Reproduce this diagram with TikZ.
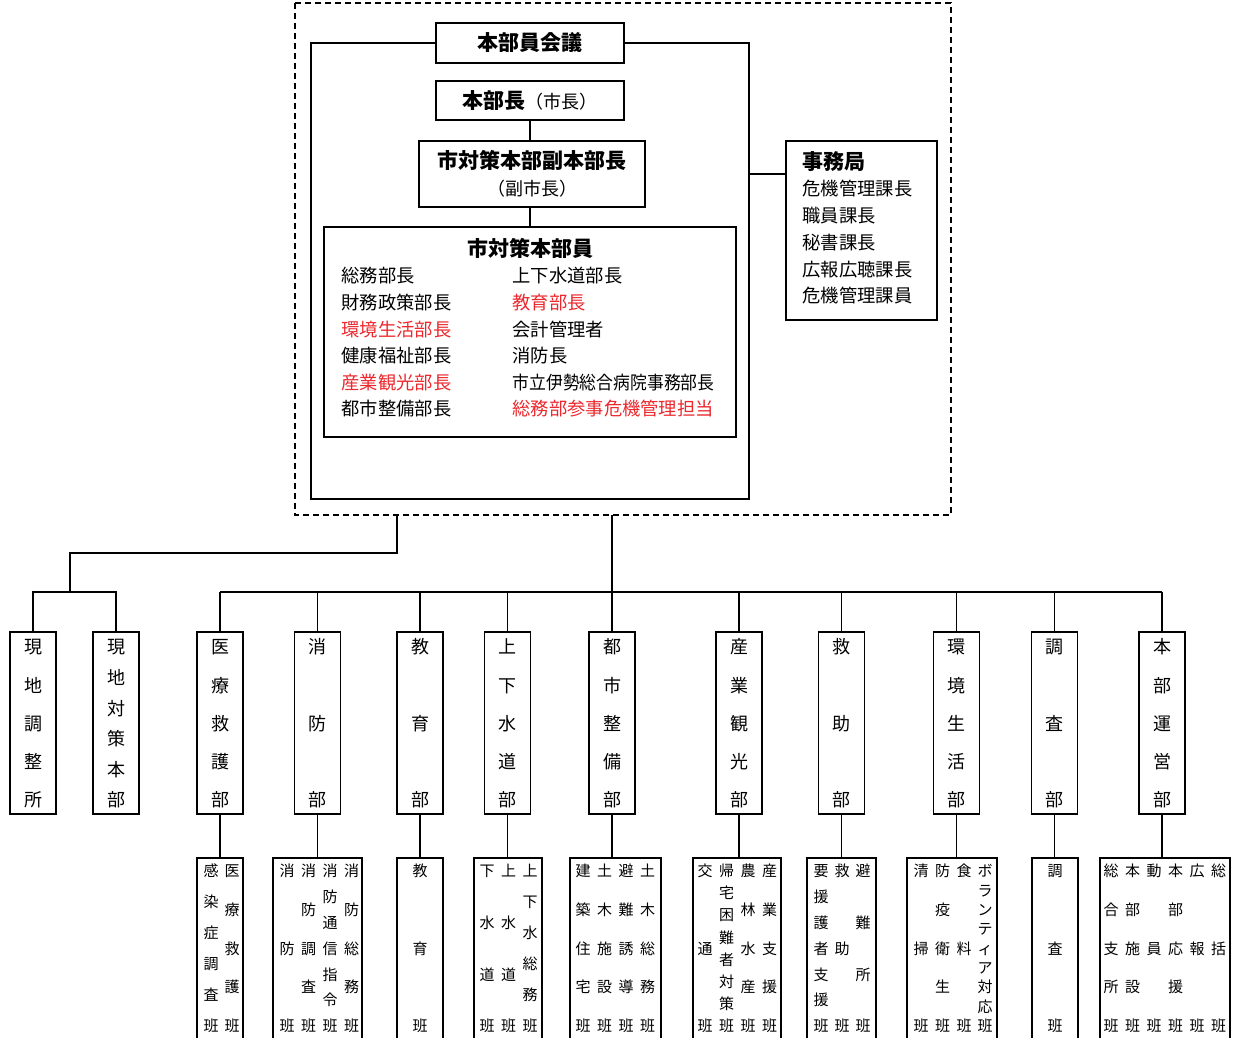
\documentclass[tikz,border=0pt]{standalone}
\usepackage{graphicx}
\usepackage{fontspec}
\setmainfont{Noto Sans CJK JP}
\definecolor{alertred}{RGB}{235,40,45}

% vertical text: one character node per row, spread from top to bottom
\newcommand{\tate}[6][tatechar]{%
  \foreach \c [count=\i] in {#6} {\xdef\tatenum{\i}}%
  \foreach \c [count=\i] in {#6} {%
    \node[#1] (#2-\i) at ({#3},{#4+(\i-1)*(#5-#4)/(\tatenum-1)}) {\c};}%
}

\tikzset{
  frame/.style={draw,inner sep=0pt},
  head/.style={inner sep=0pt,font=\fontsize{21}{27}\selectfont\bfseries,text height=18.5pt,text depth=2.5pt},
  item/.style={anchor=west,inner sep=0pt,font=\fontsize{18.3}{18}\selectfont,text height=16pt,text depth=2.2pt},
  deptbox/.style={draw,inner sep=0pt,minimum width=46,minimum height=182},
  hanbox/.style={draw,inner sep=0pt,minimum height=192},
  tatechar/.style={inner sep=0pt,font=\fontsize{15}{15}\selectfont,text height=13.2pt,text depth=1.8pt},
  bigchar/.style={inner sep=0pt,font=\fontsize{18}{18}\selectfont,text height=15.8pt,text depth=2.2pt}
}

\begin{document}
\begin{tikzpicture}[x=1pt,y=-1pt,line width=1.1pt]
  \useasboundingbox (0,0) rectangle (1237,1038);

  % headquarters area
  \draw[line width=1.2pt,dash pattern=on 6pt off 4pt] (295,3) rectangle (951,515);
  \node[frame,head,minimum width=188,minimum height=40] (kaigi) at (530,43) {本部員会議};
  \node[frame,minimum width=188,minimum height=39] (honbucho) at (530,100.5)
    {{\fontsize{21}{21}\selectfont\bfseries 本部長}{\fontsize{18}{18}\selectfont （市長）}\hspace{8pt}};
  \node[frame,align=center,minimum width=226,minimum height=66,font=\fontsize{18}{27}\selectfont] (fuku) at (532,174)
    {{\fontsize{21}{27}\selectfont\bfseries 市対策本部副本部長}\\（副市長）};
  \node[frame,minimum width=412,minimum height=210] (buin) at (530,332) {};
  \node[head] (buinhead) at (530,248) {市対策本部員};
  \foreach \t/\col [count=\i] in {総務部長/black,財務政策部長/black,環境生活部長/alertred,
      健康福祉部長/black,産業観光部長/alertred,都市整備部長/black}
    \node[item,text=\col] (bl-\i) at (341,{276+(\i-1)*26.6}) {\t};
  \foreach \t/\col [count=\i] in {上下水道部長/black,教育部長/alertred,会計管理者/black,
      消防長/black,{\scalebox{0.92}[1]{市立伊勢総合病院事務部長}}/black,総務部参事危機管理担当/alertred}
    \node[item,text=\col] (br-\i) at (512,{276+(\i-1)*26.6}) {\t};

  \node[frame,minimum width=151,minimum height=179] (jimu) at (861.5,230.5) {};
  \node[head,anchor=west] (jimuhead) at (802,161) {事務局};
  \foreach \t [count=\i] in {危機管理課長,職員課長,秘書課長,広報広聴課長,危機管理課員}
    \node[item] (jm-\i) at (802,{189+(\i-1)*26.75}) {\t};

  % connectors in the headquarters
  \coordinate (frl) at (311,499);
  \coordinate (frr) at (749,499);
  \coordinate (frj) at (749,174);
  \draw (kaigi.west) -| (frl) -- (frr) |- (kaigi.east);
  \draw (frj) -- (frj -| jimu.west);
  \draw (honbucho.south) -- (honbucho.south |- fuku.north);
  \draw (honbucho.south |- fuku.south) -- (honbucho.south |- buin.north);

  % departments
  \foreach \nm/\x in {genchichosei/33,genchitaisaku/116,iryo/220,shobo/317.5,kyoiku/420,suido/507.5,
      toshi/612,sangyo/739,kyujo/841.5,kankyo/956.5,chosa/1054.5,honbu/1162}
    \node[deptbox] (\nm) at (\x,723) {};
  \tate[bigchar]{genchichosei-t}{33}{647}{800}{現,地,調,整,所}
  \tate[bigchar]{genchitaisaku-t}{116}{647}{800}{現,地,対,策,本,部}
  \tate[bigchar]{iryo-t}{220}{647}{800}{医,療,救,護,部}
  \tate[bigchar]{shobo-t}{317.5}{647}{800}{消,防,部}
  \tate[bigchar]{kyoiku-t}{420}{647}{800}{教,育,部}
  \tate[bigchar]{suido-t}{507.5}{647}{800}{上,下,水,道,部}
  \tate[bigchar]{toshi-t}{612}{647}{800}{都,市,整,備,部}
  \tate[bigchar]{sangyo-t}{739}{647}{800}{産,業,観,光,部}
  \tate[bigchar]{kyujo-t}{841.5}{647}{800}{救,助,部}
  \tate[bigchar]{kankyo-t}{956.5}{647}{800}{環,境,生,活,部}
  \tate[bigchar]{chosa-t}{1054.5}{647}{800}{調,査,部}
  \tate[bigchar]{honbu-t}{1162}{647}{800}{本,部,運,営,部}

  % tree below the dashed box
  \coordinate (top) at (612,515);
  \coordinate (bus) at (612,592);
  \coordinate (ltop) at (397,515);
  \coordinate (gbus) at (70,592);
  \draw (top) -- (bus);
  \draw (ltop) -- (ltop |- 0,553) -| (gbus);
  \draw (genchichosei.north) |- (gbus) -| (genchitaisaku.north);
  \draw (iryo.north |- bus) -- (honbu.north |- bus);
  \foreach \nm in {iryo,shobo,kyoiku,suido,toshi,sangyo,kyujo,kankyo,chosa,honbu}
    \draw (\nm.north) -- (\nm.north |- bus);

  % teams
  \foreach \nm/\x/\w in {iryo/220/46,shobo/317.5/89,kyoiku/420/46,suido/508/68,toshi/615.5/91,
      sangyo/737/88,kyujo/841.5/69,kankyo/952/90,chosa/1055/46,honbu/1165/130}
  {
    \node[hanbox,minimum width=\w] (\nm-han) at (\x,954) {};
    \draw (\nm.south) -- (\nm.south |- \nm-han.north);
  }
  \tate{iryo-a}{211}{871}{1026}{感,染,症,調,査,班}
  \tate{iryo-b}{232}{871}{1026}{医,療,救,護,班}
  \tate{shobo-a}{287}{871}{1026}{消,防,班}
  \tate{shobo-b}{308.5}{871}{1026}{消,防,調,査,班}
  \tate{shobo-c}{330}{871}{1026}{消,防,通,信,指,令,班}
  \tate{shobo-d}{351.5}{871}{1026}{消,防,総,務,班}
  \tate{kyoiku-a}{420}{871}{1026}{教,育,班}
  \tate{suido-a}{487}{871}{1026}{下,水,道,班}
  \tate{suido-b}{508.5}{871}{1026}{上,水,道,班}
  \tate{suido-c}{530}{871}{1026}{上,下,水,総,務,班}
  \tate{toshi-a}{583}{871}{1026}{建,築,住,宅,班}
  \tate{toshi-b}{604.5}{871}{1026}{土,木,施,設,班}
  \tate{toshi-c}{626}{871}{1026}{避,難,誘,導,班}
  \tate{toshi-d}{647.5}{871}{1026}{土,木,総,務,班}
  \tate{sangyo-a}{705}{871}{1026}{交,通,班}
  \tate{sangyo-b}{726.5}{871}{1026}{帰,宅,困,難,者,対,策,班}
  \tate{sangyo-c}{748}{871}{1026}{農,林,水,産,班}
  \tate{sangyo-d}{769.5}{871}{1026}{産,業,支,援,班}
  \tate{kyujo-a}{821}{871}{1026}{要,援,護,者,支,援,班}
  \tate{kyujo-b}{842}{871}{1026}{救,助,班}
  \tate{kyujo-c}{863}{871}{1026}{避,難,所,班}
  \tate{kankyo-a}{921}{871}{1026}{清,掃,班}
  \tate{kankyo-b}{942.5}{871}{1026}{防,疫,衛,生,班}
  \tate{kankyo-c}{964}{871}{1026}{食,料,班}
  \tate{kankyo-d}{985}{871}{1026}{ボ,ラ,ン,テ,ィ,ア,対,応,班}
  \tate{chosa-a}{1055}{871}{1026}{調,査,班}
  \tate{honbu-a}{1111}{871}{1026}{総,合,支,所,班}
  \tate{honbu-b}{1132.5}{871}{1026}{本,部,施,設,班}
  \tate{honbu-c}{1154}{871}{1026}{動,員,班}
  \tate{honbu-d}{1175.5}{871}{1026}{本,部,応,援,班}
  \tate{honbu-e}{1197}{871}{1026}{広,報,班}
  \tate{honbu-f}{1218.5}{871}{1026}{総,括,班}
\end{tikzpicture}
\end{document}
